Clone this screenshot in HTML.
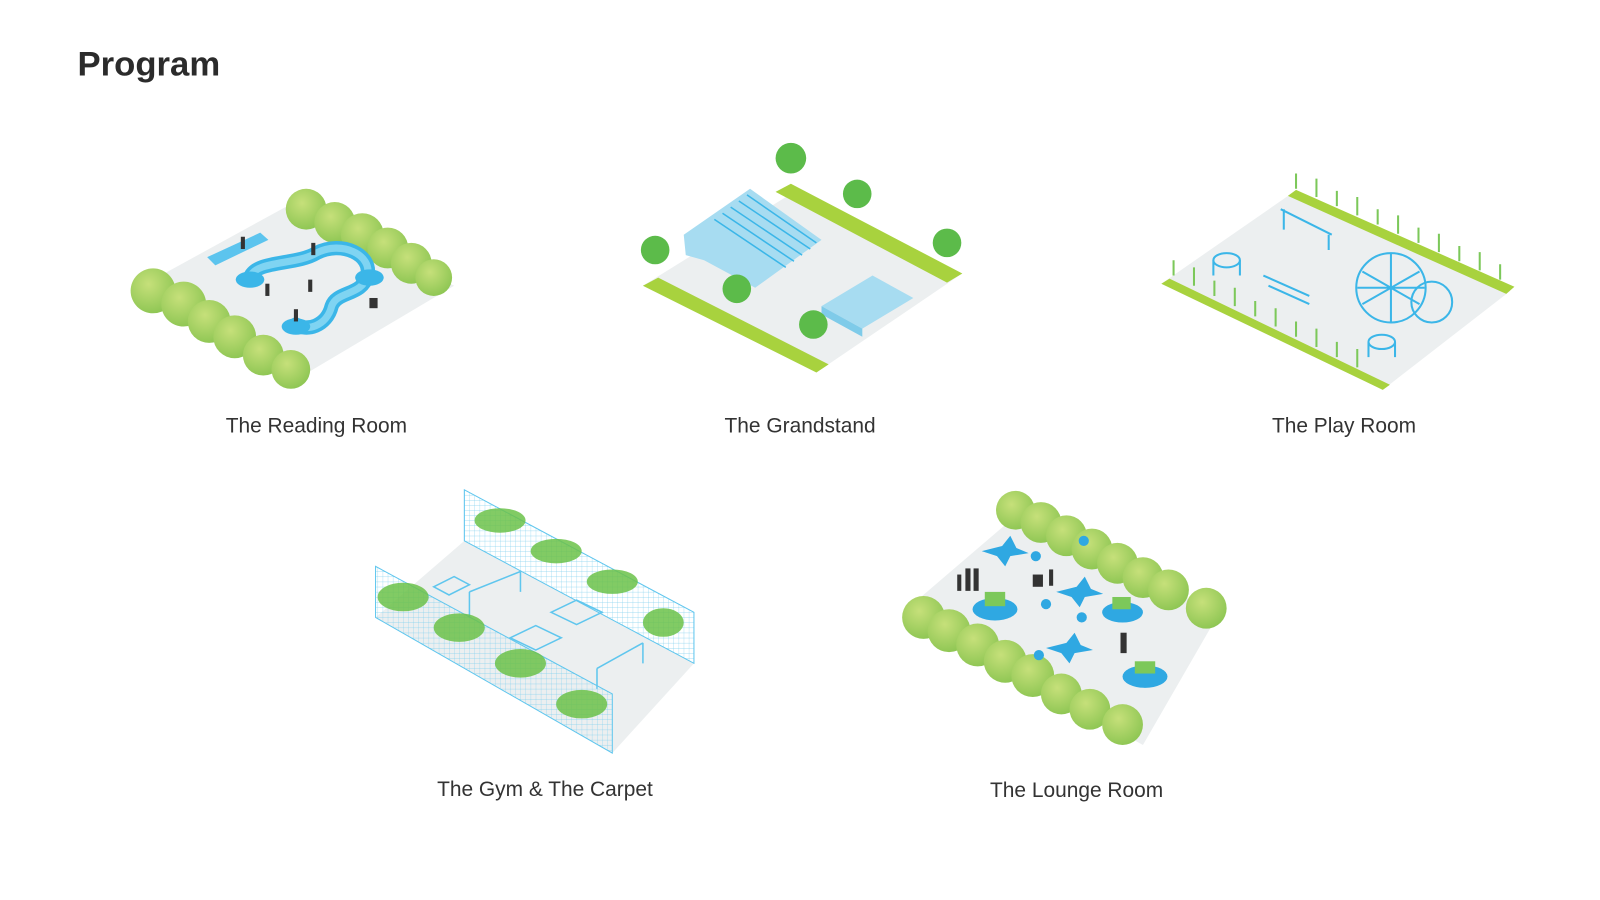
<!DOCTYPE html>
<html><head><meta charset="utf-8"><style>
html,body{margin:0;padding:0;background:#fff;width:1600px;height:900px;overflow:hidden}
svg{display:block}
text{font-family:"Liberation Sans",sans-serif}
</style></head><body>
<svg width="1600" height="900" viewBox="0 0 1600 900" xmlns="http://www.w3.org/2000/svg">
<defs>
<radialGradient id="bush" cx="40%" cy="35%" r="70%"><stop offset="0" stop-color="#c6e07a"/><stop offset="1" stop-color="#8cc552"/></radialGradient>
<pattern id="mesh" width="5" height="5" patternUnits="userSpaceOnUse"><path d="M0 0H5M0 0V5" stroke="#7fd0ee" stroke-width="0.6" fill="none"/></pattern>
</defs>
<g transform="scale(1.0205)">
<text x="76" y="74" font-size="34" font-weight="bold" fill="#2b2b2b">Program</text>

<!-- Reading Room -->
<polygon points="130,285 285,200 445,280 290,372" fill="#eceff0"/>
<g fill="url(#bush)">
<circle cx="300" cy="205" r="20"/><circle cx="328" cy="218" r="20"/><circle cx="355" cy="230" r="21"/><circle cx="380" cy="243" r="20"/><circle cx="403" cy="258" r="20"/><circle cx="425" cy="272" r="18"/>
<circle cx="150" cy="285" r="22"/><circle cx="180" cy="298" r="22"/><circle cx="205" cy="315" r="21"/><circle cx="230" cy="330" r="21"/><circle cx="258" cy="348" r="20"/><circle cx="285" cy="362" r="19"/>
</g>
<path d="M245,272 C250,255 290,260 310,248 C335,235 365,250 360,270 C355,290 330,285 325,300 C320,320 300,325 290,318" fill="none" stroke="#3bb6e8" stroke-width="14" stroke-linecap="round"/>
<path d="M245,272 C250,255 290,260 310,248 C335,235 365,250 360,270 C355,290 330,285 325,300 C320,320 300,325 290,318" fill="none" stroke="#7fd4f2" stroke-width="7" stroke-linecap="round"/>
<ellipse cx="245" cy="274" rx="14" ry="8" fill="#3bb6e8"/><ellipse cx="362" cy="272" rx="14" ry="8" fill="#3bb6e8"/><ellipse cx="290" cy="320" rx="14" ry="8" fill="#3bb6e8"/>
<polygon points="203,252 255,228 263,235 211,260" fill="#5cc4ee"/>
<g fill="#333"><rect x="236" y="232" width="4" height="12"/><rect x="305" y="238" width="4" height="12"/><rect x="260" y="278" width="4" height="12"/><rect x="302" y="274" width="4" height="12"/><rect x="288" y="303" width="4" height="12"/><rect x="362" y="292" width="8" height="10"/></g>
<text x="310" y="424" font-size="20.5" fill="#333" text-anchor="middle">The Reading Room</text>

<!-- Grandstand -->
<polygon points="630,280 775,190 940,270 800,365" fill="#eceff0"/>
<polygon points="630,280 645,272 812,357 800,365" fill="#a8d23e"/>
<polygon points="760,188 775,180 943,268 928,277" fill="#a8d23e"/>
<polygon points="670,230 735,185 805,235 740,282 690,255 672,250" fill="#a7dcf1"/>
<g stroke="#3bb6e8" stroke-width="1.5"><line x1="700" y1="215" x2="770" y2="262"/><line x1="708" y1="209" x2="778" y2="256"/><line x1="716" y1="203" x2="786" y2="250"/><line x1="724" y1="197" x2="794" y2="244"/><line x1="732" y1="191" x2="800" y2="238"/></g>
<polygon points="805,300 855,270 895,292 845,322" fill="#a7dcf1"/>
<polygon points="805,300 845,322 845,330 805,308" fill="#7fcbe9"/>
<g fill="#5cbb4a"><circle cx="775" cy="155" r="15"/><circle cx="840" cy="190" r="14"/><circle cx="928" cy="238" r="14"/><circle cx="642" cy="245" r="14"/><circle cx="722" cy="283" r="14"/><circle cx="797" cy="318" r="14"/></g>
<text x="784" y="424" font-size="20.5" fill="#333" text-anchor="middle">The Grandstand</text>

<!-- Play Room -->
<polygon points="1138,278 1265,190 1480,285 1355,382" fill="#eceff0"/>
<polygon points="1138,278 1146,273 1362,377 1355,382" fill="#a8d23e"/>
<polygon points="1262,192 1270,186 1484,281 1476,288" fill="#a8d23e"/>
<g stroke="#7cc85a" stroke-width="2"><path d="M1150,270v-15M1170,280v-18M1190,290v-15M1210,300v-18M1230,310v-15M1250,320v-18M1270,330v-15M1290,340v-18M1310,350v-15M1330,360v-18M1270,185v-15M1290,193v-18M1310,202v-15M1330,211v-18M1350,220v-15M1370,229v-18M1390,238v-15M1410,247v-18M1430,256v-15M1450,265v-18M1470,274v-15"/></g>
<g fill="none" stroke="#3bb6e8" stroke-width="2">
<circle cx="1363" cy="282" r="34"/><circle cx="1403" cy="296" r="20"/>
<path d="M1330,282h66M1335,266l56,32M1335,298l56,-32M1363,248v68"/>
<ellipse cx="1202" cy="255" rx="13" ry="7"/><path d="M1189,255v15M1215,255v15"/>
<ellipse cx="1354" cy="335" rx="13" ry="7"/><path d="M1341,335v15M1367,335v15"/>
<path d="M1255,205l50,25M1258,205v20M1302,230v15"/>
<path d="M1238,270l45,20M1243,280l40,18"/>
</g>
<text x="1317" y="424" font-size="20.5" fill="#333" text-anchor="middle">The Play Room</text>

<!-- Gym -->
<polygon points="455,530 680,650 600,738 368,605" fill="#eceff0"/>
<polygon points="455,480 680,600 680,650 455,530" fill="url(#mesh)" stroke="#5fc6ee"/>
<g fill="#6cc24a" opacity="0.85"><ellipse cx="490" cy="510" rx="25" ry="12"/><ellipse cx="545" cy="540" rx="25" ry="12"/><ellipse cx="600" cy="570" rx="25" ry="12"/><ellipse cx="650" cy="610" rx="20" ry="14"/></g>
<g fill="none" stroke="#5fc6ee" stroke-width="1.5"><polygon points="540,600 565,588 590,600 565,612"/><polygon points="500,625 525,613 550,625 525,637"/><path d="M460,580l50,-20M585,655l45,-25M585,655v20M630,630v20M460,580v25M510,560v20"/><polygon points="425,575 445,565 460,573 440,583"/></g>
<polygon points="368,555 600,680 600,738 368,605" fill="url(#mesh)" stroke="#5fc6ee"/>
<g fill="#6cc24a" opacity="0.85"><ellipse cx="395" cy="585" rx="25" ry="14"/><ellipse cx="450" cy="615" rx="25" ry="14"/><ellipse cx="510" cy="650" rx="25" ry="14"/><ellipse cx="570" cy="690" rx="25" ry="14"/></g>
<text x="534" y="780" font-size="20.5" fill="#333" text-anchor="middle">The Gym &amp; The Carpet</text>

<!-- Lounge -->
<polygon points="885,600 990,510 1195,600 1120,730" fill="#eceff0"/>
<g fill="url(#bush)">
<circle cx="995" cy="500" r="19"/><circle cx="1020" cy="512" r="20"/><circle cx="1045" cy="525" r="20"/><circle cx="1070" cy="538" r="20"/><circle cx="1095" cy="552" r="20"/><circle cx="1120" cy="566" r="20"/><circle cx="1145" cy="578" r="20"/><circle cx="1182" cy="596" r="20"/>
<circle cx="905" cy="605" r="21"/><circle cx="930" cy="618" r="21"/><circle cx="958" cy="632" r="21"/><circle cx="985" cy="648" r="21"/><circle cx="1012" cy="662" r="21"/><circle cx="1040" cy="680" r="20"/><circle cx="1068" cy="695" r="20"/><circle cx="1100" cy="710" r="20"/>
</g>
<g fill="#2fa8e2"><ellipse cx="975" cy="597" rx="22" ry="11"/><ellipse cx="1100" cy="600" rx="20" ry="10"/><ellipse cx="1122" cy="663" rx="22" ry="11"/>
<path d="M962,540l20,-5 8,-10 6,12 12,5-18,3-5,10-8-10z"/><path d="M1035,580l20,-5 8,-10 6,12 12,5-18,3-5,10-8-10z"/><path d="M1025,635l20,-5 8,-10 6,12 12,5-18,3-5,10-8-10z"/>
<circle cx="1015" cy="545" r="5"/><circle cx="1025" cy="592" r="5"/><circle cx="1060" cy="605" r="5"/><circle cx="1018" cy="642" r="5"/><circle cx="1062" cy="530" r="5"/></g>
<g fill="#7cc85a"><rect x="965" y="580" width="20" height="14"/><rect x="1090" y="585" width="18" height="12"/><rect x="1112" y="648" width="20" height="12"/></g>
<g fill="#333"><rect x="938" y="563" width="4" height="16"/><rect x="946" y="557" width="5" height="22"/><rect x="954" y="557" width="5" height="22"/><rect x="1012" y="563" width="10" height="12"/><rect x="1028" y="558" width="4" height="16"/><rect x="1098" y="620" width="6" height="20"/></g>
<text x="1055" y="781" font-size="20.5" fill="#333" text-anchor="middle">The Lounge Room</text>
</g>
</svg>
</body></html>
